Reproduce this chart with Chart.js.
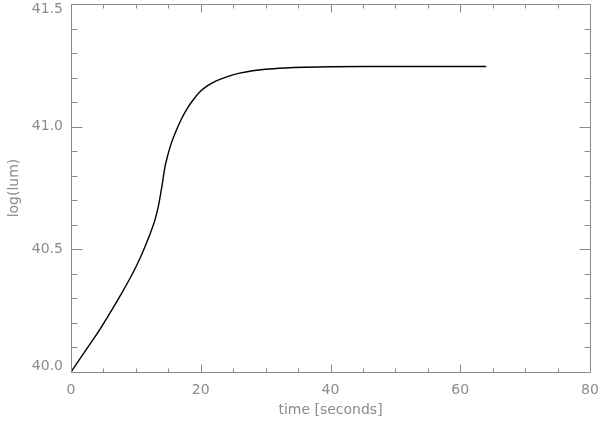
<!DOCTYPE html>
<html>
<head>
<meta charset="utf-8">
<script src="https://cdn.jsdelivr.net/npm/chart.js@4"></script>
<style>
  html, body { margin: 0; padding: 0; background: #fff; }
  #wrap { width: 600px; height: 421px; }
</style>
</head>
<body>
<div id="wrap"><canvas id="c" width="600" height="421"></canvas></div>
<script>
// ---- data ----
const times = [0, 2, 4, 6, 8, 9, 10, 11, 12, 13, 13.5, 14, 14.5, 15, 15.5, 16, 17, 18, 19, 20, 21, 22, 24, 26, 28, 30, 33, 36, 40, 45, 50, 55, 60, 64];
const logLum = [40.000, 40.078, 40.155, 40.240, 40.330, 40.377, 40.428, 40.485, 40.550, 40.625, 40.680, 40.755, 40.838, 40.892, 40.935, 40.970, 41.030, 41.078, 41.115, 41.145, 41.166, 41.182, 41.203, 41.218, 41.228, 41.234, 41.239, 41.242, 41.244, 41.245, 41.245, 41.245, 41.245, 41.245];
const xMajorTicks = [0, 20, 40, 60, 80];
const xMinorTicks = [5, 10, 15, 25, 30, 35, 45, 50, 55, 65, 70, 75];
const yMajorTicks = [40.0, 40.5, 41.0, 41.5];
const yTickLabels = ['40.0', '40.5', '41.0', '41.5'];
const yMinorTicks = [40.1, 40.2, 40.3, 40.4, 40.6, 40.7, 40.8, 40.9, 41.1, 41.2, 41.3, 41.4];
const xTitle = 'time [seconds]';
const yTitle = 'log(lum)';

const AXIS = '#8a8a8a';
const TEXT = '#8c8c8c';
const FONT = { family: 'DejaVu Sans', size: 14, weight: 'normal' };

const points = times.map((t, i) => ({ x: t, y: logLum[i] }));

const framePlugin = {
  id: 'idlFrame',
  afterDraw(chart) {
    const { ctx, chartArea: a, scales } = chart;
    const xs = scales.x, ys = scales.y;
    ctx.save();
    ctx.strokeStyle = AXIS;
    ctx.lineWidth = 1;
    ctx.beginPath();
    const L = Math.round(a.left) + 0.5, R = Math.round(a.right) + 0.5;
    const T = Math.round(a.top) + 0.5, B = Math.round(a.bottom) + 0.5;
    ctx.rect(L, T, R - L, B - T);
    const xt = (v, len) => {
      const p = Math.round(xs.getPixelForValue(v)) + 0.5;
      ctx.moveTo(p, B); ctx.lineTo(p, B - len);
      ctx.moveTo(p, T); ctx.lineTo(p, T + len);
    };
    const yt = (v, len) => {
      const p = Math.round(ys.getPixelForValue(v)) + 0.5;
      ctx.moveTo(L, p); ctx.lineTo(L + len, p);
      ctx.moveTo(R, p); ctx.lineTo(R - len, p);
    };
    xMajorTicks.forEach(v => xt(v, 8));
    xMinorTicks.forEach(v => xt(v, 4));
    yMajorTicks.forEach(v => yt(v, 11));
    yMinorTicks.forEach(v => yt(v, 6));
    ctx.stroke();
    ctx.restore();
  }
};

function yLabel(v) {
  const i = yMajorTicks.findIndex(t => Math.abs(t - v) < 1e-6);
  const s = i >= 0 ? yTickLabels[i] : Number(v).toFixed(1);
  // keep the first and last label inside the frame, as in the reference
  if (i === yMajorTicks.length - 1) return ['', s];
  if (i === 0) return [s, ''];
  return s;
}

new Chart(document.getElementById('c'), {
  type: 'line',
  data: {
    datasets: [{
      data: points,
      borderColor: '#000',
      borderWidth: 1.4,
      pointRadius: 0,
      fill: false,
      cubicInterpolationMode: 'monotone'
    }]
  },
  options: {
    responsive: false,
    animation: false,
    devicePixelRatio: 1,
    layout: { padding: { top: 4, right: 10, left: 0, bottom: 0 } },
    plugins: { legend: { display: false }, tooltip: { enabled: false } },
    scales: {
      x: {
        type: 'linear',
        min: 0, max: 80,
        afterBuildTicks: s => { s.ticks = xMajorTicks.map(v => ({ value: v })); },
        afterFit: s => { s.height = 49; s.paddingLeft = 0; s.paddingRight = 0; },
        grid: { display: true, drawOnChartArea: false, drawTicks: false },
        border: { display: false },
        ticks: { color: TEXT, font: FONT, padding: 10, maxRotation: 0, callback: v => String(v) },
        title: { display: true, text: xTitle, color: TEXT, font: FONT, padding: { top: 2, bottom: 2 } }
      },
      y: {
        type: 'linear',
        min: 40.0, max: 41.5,
        afterBuildTicks: s => { s.ticks = yMajorTicks.map(v => ({ value: v })); },
        afterFit: s => { s.width = 71; s.paddingTop = 0; s.paddingBottom = 0; },
        grid: { display: true, drawOnChartArea: false, drawTicks: false },
        border: { display: false },
        ticks: { color: TEXT, font: { family: 'DejaVu Sans', size: 14, lineHeight: '11px' }, padding: 8, callback: yLabel },
        title: { display: true, text: yTitle, color: TEXT, font: FONT, padding: { top: 6, bottom: 4 } }
      }
    }
  },
  plugins: [framePlugin]
});
</script>
</body>
</html>
